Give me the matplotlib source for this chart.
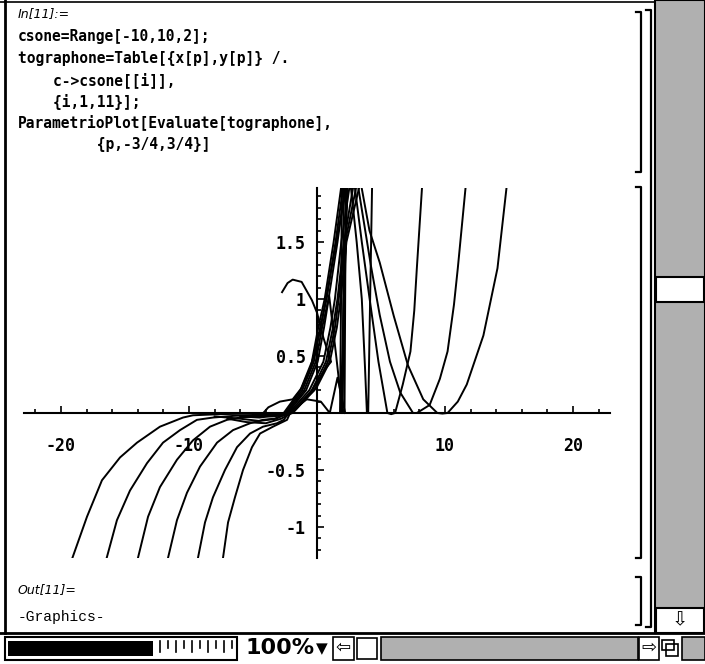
import matplotlib
matplotlib.use("Agg")
import matplotlib.pyplot as plt
from matplotlib.patches import Rectangle

# curves, one list of (x, y) per value of c
curve_m10 = [(-19.2, -1.30), (-17.97, -0.91), (-16.80, -0.59), (-15.39, -0.39), (-14.06, -0.26),
             (-12.27, -0.12), (-10.47, -0.04), (-9.69, -0.02), (-7.5, -0.01), (-5.0, -0.005),
             (-3.5, -0.003), (-2.6, 0.0), (-1.3, 0.2), (-0.4, 0.45), (0.1, 0.75), (0.6, 1.0),
             (1.3, 1.5), (1.95, 2.03), (1.88, 1.0), (1.8, 0.0)]
curve_m8 = [(-16.5, -1.30), (-15.63, -0.94), (-14.61, -0.68), (-13.28, -0.44), (-12.03, -0.26),
            (-10.70, -0.15), (-9.38, -0.06), (-8.13, -0.04), (-6.5, -0.025), (-4.5, -0.015),
            (-3.2, -0.01), (-2.5, 0.0), (-1.15, 0.2), (-0.25, 0.45), (0.25, 0.75), (0.75, 1.0),
            (1.45, 1.5), (2.1, 2.03), (2.05, 1.0), (2.0, 0.0)]
curve_m6 = [(-14.05, -1.30), (-13.20, -0.91), (-12.27, -0.65), (-10.94, -0.41), (-9.69, -0.24),
            (-8.36, -0.12), (-7.03, -0.06), (-6.02, -0.04), (-4.8, -0.03), (-3.5, -0.02),
            (-2.4, 0.0), (-1.0, 0.2), (-0.1, 0.45), (0.4, 0.75), (0.9, 1.0), (1.6, 1.5),
            (2.25, 2.03), (2.2, 1.0), (2.15, 0.0)]
curve_m4 = [(-11.7, -1.30), (-10.94, -0.94), (-10.16, -0.70), (-9.14, -0.47), (-7.81, -0.26),
            (-6.56, -0.15), (-5.23, -0.09), (-4.22, -0.06), (-3.3, -0.05), (-2.3, 0.0),
            (-0.85, 0.2), (0.05, 0.45), (0.55, 0.75), (0.95, 1.03), (1.5, 0.5), (2.0, 0.0)]
curve_m2 = [(-9.35, -1.30), (-8.75, -0.96), (-8.13, -0.74), (-7.19, -0.50), (-6.25, -0.30),
            (-5.23, -0.18), (-4.22, -0.12), (-3.13, -0.09), (-2.6, -0.06), (-2.2, 0.0),
            (-0.8, 0.12), (0.3, 0.1), (1.0, 0.0), (1.6, 0.31), (2.2, 0.0)]
curve_0 = [(-7.38, -1.30), (-6.95, -0.96), (-6.41, -0.74), (-5.78, -0.50), (-5.08, -0.30),
           (-4.45, -0.18), (-3.44, -0.12), (-2.34, -0.06), (-2.1, 0.0), (-0.5, 0.18),
           (0.6, 0.38), (1.1, 0.45), (0.5, 0.66), (0.0, 0.88), (-0.4, 0.99), (-1.2, 1.15),
           (-1.9, 1.17), (-2.3, 1.14), (-2.73, 1.06)]
curve_2 = [(-4.2, 0.0), (-3.8, 0.05), (-2.9, 0.1), (-1.9, 0.12), (-1.2, 0.22), (-0.5, 0.4),
           (0.2, 0.7), (0.7, 1.0), (1.5, 1.5), (2.4, 2.03), (2.1, 1.0), (1.85, 0.0),
           (1.95, 0.0), (2.1, 0.6), (2.3, 1.97), (2.33, 2.1)]
curve_4 = [(-8.0, -0.03), (-6.0, -0.05), (-4.5, -0.07), (-3.2, -0.05), (-2.2, 0.0), (-0.6, 0.2),
           (0.5, 0.45), (1.05, 0.75), (1.4, 1.0), (1.9, 1.5), (2.6, 2.03), (3.1, 1.5),
           (3.5, 1.0), (3.75, 0.4), (3.9, 0.0), (4.0, 0.0), (4.12, 0.8), (4.3, 1.97), (4.32, 2.1)]
curve_6 = [(-7.0, -0.05), (-5.5, -0.08), (-4.0, -0.09), (-2.8, -0.05), (-2.0, 0.0), (-0.4, 0.2),
           (0.7, 0.45), (1.25, 0.75), (1.6, 1.0), (2.1, 1.5), (2.9, 2.03), (3.5, 1.5),
           (4.1, 1.01), (4.8, 0.45), (5.5, 0.0), (5.8, -0.01), (6.1, 0.0), (6.7, 0.25),
           (7.3, 0.54), (7.6, 0.9), (7.8, 1.27), (8.2, 1.97), (8.25, 2.1)]
curve_8 = [(-6.0, -0.03), (-4.5, -0.04), (-3.0, -0.02), (-1.95, 0.0), (-0.2, 0.2), (0.85, 0.45),
           (1.4, 0.75), (1.7, 1.0), (2.2, 1.5), (3.15, 2.03), (4.2, 1.3), (4.9, 0.86),
           (5.7, 0.45), (6.5, 0.18), (7.5, 0.0), (7.8, 0.0), (8.8, 0.07), (9.6, 0.3),
           (10.2, 0.54), (10.7, 0.95), (11.0, 1.27), (11.6, 1.97), (11.7, 2.1)]
curve_10 = [(-5.0, -0.02), (-3.5, -0.03), (-2.6, -0.02), (-1.9, 0.0), (0.0, 0.23), (1.0, 0.45),
            (1.55, 0.75), (1.85, 1.0), (2.3, 1.5), (3.4, 2.03), (4.1, 1.6), (4.9, 1.32),
            (6.0, 0.85), (7.1, 0.42), (8.3, 0.12), (9.4, 0.0), (9.8, -0.005), (10.2, 0.0),
            (11.0, 0.1), (11.7, 0.25), (13.0, 0.68), (14.1, 1.27), (14.8, 1.97), (14.9, 2.1)]

curves = [curve_m10, curve_m8, curve_m6, curve_m4, curve_m2, curve_0,
          curve_2, curve_4, curve_6, curve_8, curve_10]

x_major = [-20, -10, 10, 20]
x_labels = ["-20", "-10", "10", "20"]
y_major = [-1, -0.5, 0.5, 1, 1.5]
y_labels = ["-1", "-0.5", "0.5", "1", "1.5"]

code_lines = ["csone=Range[-10,10,2];",
              "tographone=Table[{x[p],y[p]} /.",
              "    c->csone[[i]],",
              "    {i,1,11}];",
              "ParametrioPlot[Evaluate[tographone],",
              "         {p,-3/4,3/4}]"]

W, H = 705, 664
fig = plt.figure(figsize=(W / 100, H / 100), dpi=100)
bg = fig.add_axes([0, 0, 1, 1])
bg.set_xlim(0, W)
bg.set_ylim(H, 0)
bg.axis("off")

mono = "DejaVu Sans Mono"

# notebook text
bg.text(18, 14, "In[11]:=", fontsize=9, style="italic", va="center", family="DejaVu Sans")
for i, line in enumerate(code_lines):
    bg.text(18, 37 + i * 21.5, line, fontsize=10.5, weight="bold", family=mono, va="center")
bg.text(18, 590, "Out[11]=", fontsize=9, style="italic", va="center", family="DejaVu Sans")
bg.text(18, 617, "-Graphics-", fontsize=10.5, family="Liberation Mono", va="center")

# window frame
bg.plot([5, 5], [0, 633], color="k", lw=2)
bg.plot([0, 655], [2, 2], color="k", lw=1.2)


def bracket(x, y0, y1):
    bg.plot([x - 5, x, x, x - 5], [y0, y0, y1, y1], color="k", lw=1.6)


bracket(641, 12, 172)
bracket(641, 187, 558)
bracket(641, 577, 625)
bracket(651, 10, 627)

# scrollbar
bg.add_patch(Rectangle((655, 0), 50, 633, facecolor="#b0b0b0", edgecolor="k", lw=1.5))
bg.add_patch(Rectangle((656, 277), 48, 25, facecolor="white", edgecolor="k", lw=1.5))
bg.add_patch(Rectangle((656, 608), 48, 25, facecolor="white", edgecolor="k", lw=1.5))
bg.text(680, 620, "\u21e9", fontsize=14, ha="center", va="center", family="DejaVu Sans")

# status bar
bg.plot([0, W], [633, 633], color="k", lw=2)
bg.add_patch(Rectangle((5, 637), 232, 23, facecolor="white", edgecolor="k", lw=1.5))
bg.add_patch(Rectangle((8, 641), 145, 15, facecolor="k", edgecolor="k", lw=0))
for i, tx in enumerate(range(160, 235, 8)):
    bg.plot([tx, tx], [641, 648 if i % 2 else 652], color="k", lw=1.2)
bg.text(245, 648, "100%", fontsize=16, weight="bold", va="center", family="DejaVu Sans")
bg.text(322, 649, "\u25bc", fontsize=11, ha="center", va="center", family="DejaVu Sans")
bg.add_patch(Rectangle((333, 637), 21, 23, facecolor="white", edgecolor="k", lw=1.2))
bg.text(343.5, 648, "\u21e6", fontsize=13, ha="center", va="center", family="DejaVu Sans")
bg.add_patch(Rectangle((357, 638), 20, 21, facecolor="white", edgecolor="k", lw=1.2))
bg.add_patch(Rectangle((381, 637), 257, 23, facecolor="#b0b0b0", edgecolor="k", lw=1.2))
bg.add_patch(Rectangle((639, 637), 20, 23, facecolor="white", edgecolor="k", lw=1.2))
bg.text(649, 648, "\u21e8", fontsize=13, ha="center", va="center", family="DejaVu Sans")
bg.add_patch(Rectangle((662, 640), 12, 10, facecolor="white", edgecolor="k", lw=1.2))
bg.add_patch(Rectangle((666, 644), 12, 12, facecolor="none", edgecolor="k", lw=1.2))
bg.add_patch(Rectangle((682, 637), 23, 23, facecolor="#b0b0b0", edgecolor="k", lw=1.2))

# the graphics
x0, x1, y0, y1 = -22.9, 22.9, -1.27, 1.97
px_l, px_r = 317 + 12.8 * x0, 317 + 12.8 * x1
py_t, py_b = 413 - 114 * y1, 413 - 114 * y0
ax = fig.add_axes([px_l / W, 1 - py_b / H, (px_r - px_l) / W, (py_b - py_t) / H])
ax.patch.set_alpha(0)
for c in curves:
    ax.plot([p[0] for p in c], [p[1] for p in c], color="k", lw=1.4)
ax.set_xlim(x0, x1)
ax.set_ylim(y0, y1)
for s in ["top", "right"]:
    ax.spines[s].set_visible(False)
ax.spines["left"].set_position(("data", 0))
ax.spines["bottom"].set_position(("data", 0))
ax.spines["left"].set_linewidth(1.5)
ax.spines["bottom"].set_linewidth(1.5)
ax.set_xticks(x_major)
ax.set_xticklabels(x_labels)
ax.set_xticks([v for v in range(-22, 23, 2) if v % 10], minor=True)
ax.set_yticks(y_major)
ax.set_yticklabels(y_labels)
ax.set_yticks([k / 10 for k in range(-12, 20) if k % 5], minor=True)
ax.tick_params(which="both", direction="in", width=1.2)
ax.tick_params(which="major", length=5)
ax.tick_params(which="minor", length=3)
ax.tick_params(axis="x", which="major", pad=17)
ax.tick_params(axis="y", which="major", pad=8)
for t in ax.get_xticklabels() + ax.get_yticklabels():
    t.set_family(mono)
    t.set_weight("bold")
    t.set_fontsize(12)

fig.savefig("out.png", dpi=100)
